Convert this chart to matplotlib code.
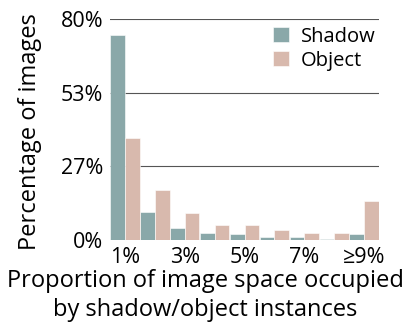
import numpy as np
import matplotlib
matplotlib.use('Agg')
import matplotlib.pyplot as plt

# bins of image space occupied (%)
bins = ['1%', '2%', '3%', '4%', '5%', '6%', '7%', '8%', '≥9%']
shadow = [74.2, 10.0, 4.5, 2.4, 2.2, 1.1, 1.1, 0.5, 2.2]
objects = [36.8, 18.0, 9.7, 5.3, 5.3, 3.6, 2.4, 2.4, 14.1]
yticks = [0, 80/3, 160/3, 80]
ytick_labels = ['0%', '27%', '53%', '80%']

plt.rcParams['font.family'] = ['Open Sans', 'DejaVu Sans']
fig = plt.figure(figsize=(4.11, 3.24), dpi=100)
ax = fig.add_axes([0.268, 0.259, 0.654, 0.682])

x = np.arange(len(bins))
w = 0.49
ax.bar(x - w/2, shadow, w, color='#8aa8a9', label='Shadow', edgecolor='white', linewidth=0.4)
ax.bar(x + w/2, objects, w, color='#d8b9ad', label='Object', edgecolor='white', linewidth=0.4)

ax.set_xlim(-0.5, len(bins) - 0.5)
ax.set_ylim(0, 80)
ax.set_yticks(yticks)
ax.set_yticklabels(ytick_labels)
ax.set_xticks(x[::2])
ax.set_xticklabels(bins[::2])
ax.yaxis.grid(True, color='#555555', linewidth=0.8)
ax.set_axisbelow(True)
for s in ax.spines.values():
    s.set_visible(False)
ax.tick_params(length=0, labelsize=15.5, pad=5)
ax.set_ylabel('Percentage of images', fontsize=17)
ax.yaxis.set_label_coords(-0.255, 0.49)
ax.set_xlabel('Proportion of image space occupied\nby shadow/object instances', fontsize=17,
              linespacing=1.3, va='top')
ax.xaxis.set_label_coords(0.355, -0.13)
ax.legend(loc='upper right', bbox_to_anchor=(1.04, 1.03), frameon=False, fontsize=14.5,
          handlelength=0.8, handleheight=0.8, handletextpad=0.6, labelspacing=0.2,
          borderaxespad=0.3)

fig.savefig('out.png')
